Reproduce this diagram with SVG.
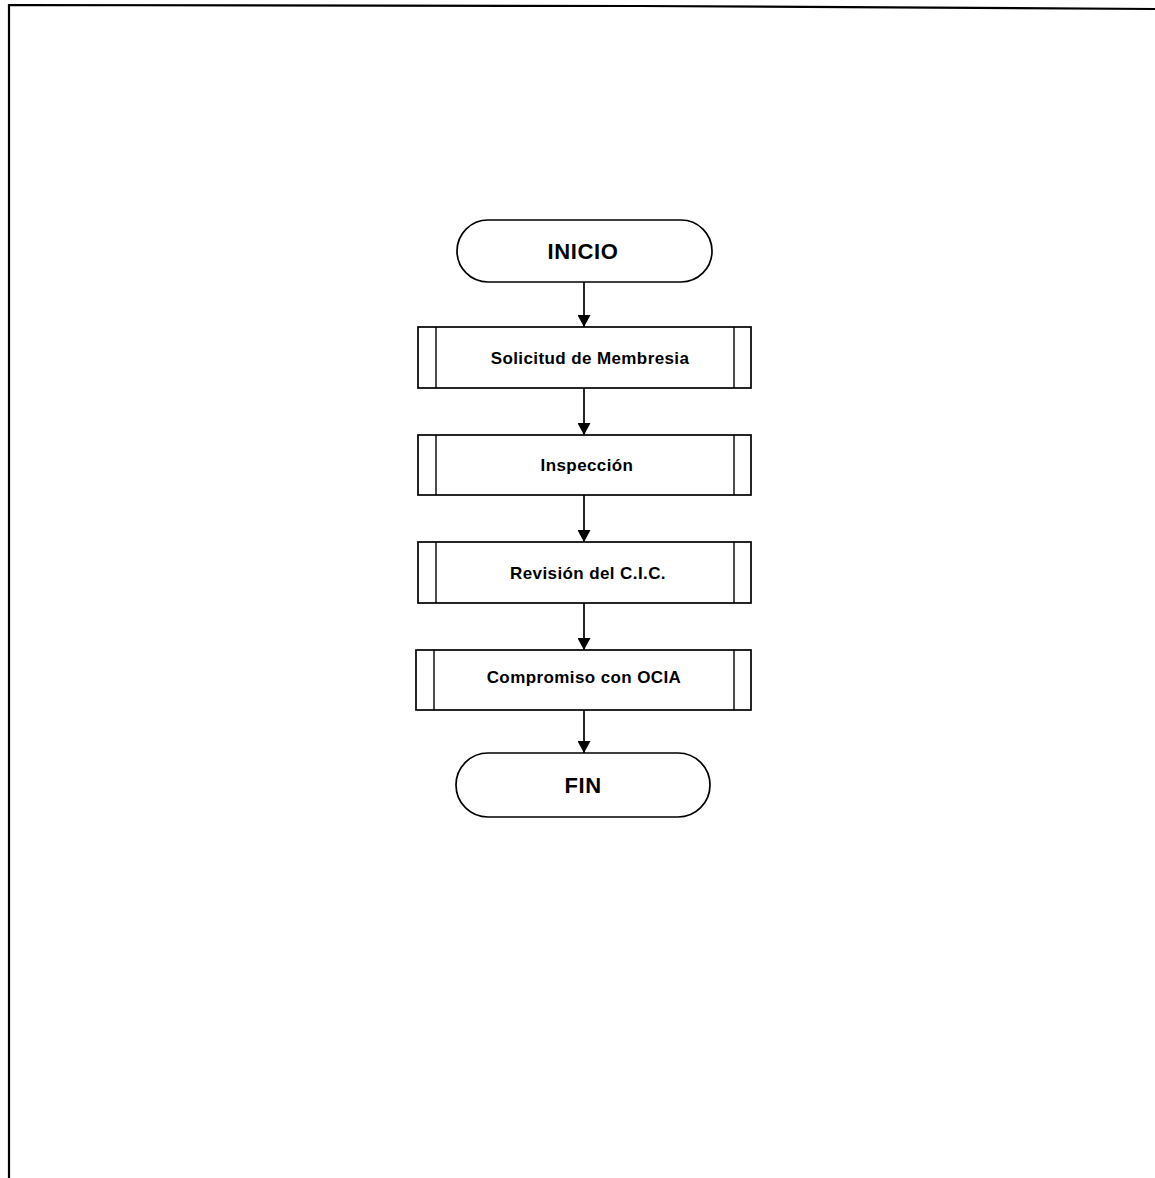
<svg xmlns="http://www.w3.org/2000/svg" width="1155" height="1178" viewBox="0 0 1155 1178">
  <defs>
    <style>
      .frame { fill: none; stroke: #000; stroke-width: 2.2; }
      .term { fill: #fff; stroke: #000; stroke-width: 1.7; }
      .proc { fill: #fff; stroke: #000; stroke-width: 1.7; }
      .bar { stroke: #000; stroke-width: 1.4; }
      .edge { fill: none; stroke: #000; stroke-width: 1.7; }
      .big { font-family: "Liberation Sans", Arial, sans-serif; font-weight: bold; font-size: 22px; letter-spacing: 0.6px; fill: #000; text-anchor: middle; }
      .lbl { font-family: "Liberation Sans", Arial, sans-serif; font-weight: bold; font-size: 17px; letter-spacing: 0.4px; fill: #000; text-anchor: middle; }
    </style>
    <marker id="arrow" viewBox="0 0 12 13" refX="12" refY="6.5" markerWidth="12" markerHeight="13" markerUnits="userSpaceOnUse" orient="auto">
      <path d="M0,0 L12,6.5 L0,13 Z" fill="#000"/>
    </marker>
  </defs>

  <rect width="1155" height="1178" fill="#fff"/>

  <!-- page frame -->
  <path class="frame" d="M9,1178 L9,5 L640,6 L1155,9"/>

  <!-- connectors -->
  <g id="connectors">
    <line class="edge" x1="584" y1="282" x2="584" y2="327" marker-end="url(#arrow)"/>
    <line class="edge" x1="584" y1="388" x2="584" y2="435" marker-end="url(#arrow)"/>
    <line class="edge" x1="584" y1="495" x2="584" y2="542" marker-end="url(#arrow)"/>
    <line class="edge" x1="584" y1="603" x2="584" y2="650" marker-end="url(#arrow)"/>
    <line class="edge" x1="584" y1="710" x2="584" y2="753" marker-end="url(#arrow)"/>
  </g>

  <!-- start terminal -->
  <g id="inicio">
    <rect class="term" x="457" y="220" width="255" height="62" rx="31" ry="31"/>
    <text class="big" x="583" y="259">INICIO</text>
  </g>

  <!-- predefined processes -->
  <g id="solicitud">
    <rect class="proc" x="418" y="327" width="333" height="61"/>
    <line class="bar" x1="436" y1="327" x2="436" y2="388"/>
    <line class="bar" x1="734" y1="327" x2="734" y2="388"/>
    <text class="lbl" x="590" y="364">Solicitud de Membresia</text>
  </g>

  <g id="inspeccion">
    <rect class="proc" x="418" y="435" width="333" height="60"/>
    <line class="bar" x1="436" y1="435" x2="436" y2="495"/>
    <line class="bar" x1="734" y1="435" x2="734" y2="495"/>
    <text class="lbl" x="587" y="471">Inspección</text>
  </g>

  <g id="revision">
    <rect class="proc" x="418" y="542" width="333" height="61"/>
    <line class="bar" x1="436" y1="542" x2="436" y2="603"/>
    <line class="bar" x1="734" y1="542" x2="734" y2="603"/>
    <text class="lbl" x="588" y="579">Revisión del C.I.C.</text>
  </g>

  <g id="compromiso">
    <rect class="proc" x="416" y="650" width="335" height="60"/>
    <line class="bar" x1="434" y1="650" x2="434" y2="710"/>
    <line class="bar" x1="734" y1="650" x2="734" y2="710"/>
    <text class="lbl" x="584" y="683">Compromiso con OCIA</text>
  </g>

  <!-- end terminal -->
  <g id="fin">
    <rect class="term" x="456" y="753" width="254" height="64" rx="32" ry="32"/>
    <text class="big" x="583" y="793">FIN</text>
  </g>
</svg>
